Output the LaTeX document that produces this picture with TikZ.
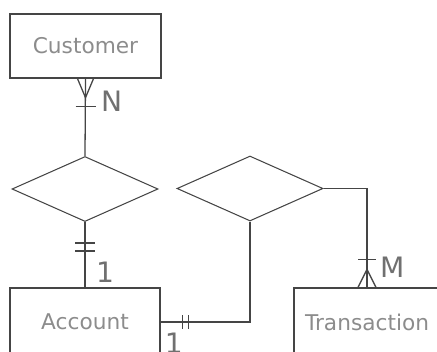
\documentclass[tikz,border=0pt]{standalone}
\usepackage{fontspec}
\setmainfont{DejaVu Sans}
\usetikzlibrary{calc,shapes.geometric}
\definecolor{FigureInk}{HTML}{454545}
\definecolor{FigureText}{HTML}{8C8C8C}
\tikzset{
  entity/.style={draw=FigureInk, line width=1.1pt, minimum width=45mm, minimum height=20.4mm, inner sep=0pt, font=\fontsize{18.5}{22}\selectfont, text=FigureText},
  relation/.style={diamond, draw=FigureInk, line width=.9pt, minimum width=43.8mm, minimum height=19.5mm, inner sep=0pt},
  link/.style={line width=1.1pt, draw=FigureInk},
  card/.style={font=\fontsize{24}{28}\selectfont, text=FigureText!80!black, inner sep=0pt, anchor=base west},
}
\begin{document}
\begin{tikzpicture}[x=.3mm, y=-.3mm]
  \clip (0,0) rectangle (437,351);
  \node[entity, minimum width=45.3mm, minimum height=19.2mm] (cust) at (85.5,46) {Customer};
  \node[entity] (acct) at (85,322) {Account};
  \node[entity, minimum width=43.8mm] (trans) at (367,322) {Transaction};
  \node[relation] (owns) at (85,189) {};
  \node[relation] (makes) at (250,188.5) {};
  \draw[link] (cust.south) -- (owns.north);
  \draw[link] (owns.south) -- (acct.north);
  \draw[link] (acct.east) -| (makes.south);
  \draw[link] (makes.east) -| (trans.north);
  % one or many
  \draw[link] ($(cust.south)+(-8,0)$) -- ($(cust.south)+(0,19)$) -- ($(cust.south)+(8,0)$);
  \draw[link] ($(cust.south)+(-10,28)$) -- ($(cust.south)+(10,28)$);
  \draw[link] ($(trans.north)+(-9,0)$) -- ($(trans.north)+(0,-18)$) -- ($(trans.north)+(9,0)$);
  \draw[link] ($(trans.north)+(-9,-28)$) -- ($(trans.north)+(9,-28)$);
  % exactly one
  \draw[link] ($(owns.south)+(-10,21)$) -- ($(owns.south)+(10,21)$);
  \draw[link] ($(owns.south)+(-10,29)$) -- ($(owns.south)+(10,29)$);
  \draw[link] ($(acct.east)+(22,-7)$) -- ($(acct.east)+(22,7)$);
  \draw[link] ($(acct.east)+(28,-7)$) -- ($(acct.east)+(28,7)$);
  \node[card] (n) at ($(cust.south)+(15.5,33)$) {N};
  \node[card] (one top) at ($(acct.north)+(11,-5)$) {1};
  \node[card] (one side) at ($(acct.east)+(4,31)$) {1};
  \node[card] (m) at ($(trans.north)+(13,-10)$) {M};
\end{tikzpicture}
\end{document}
